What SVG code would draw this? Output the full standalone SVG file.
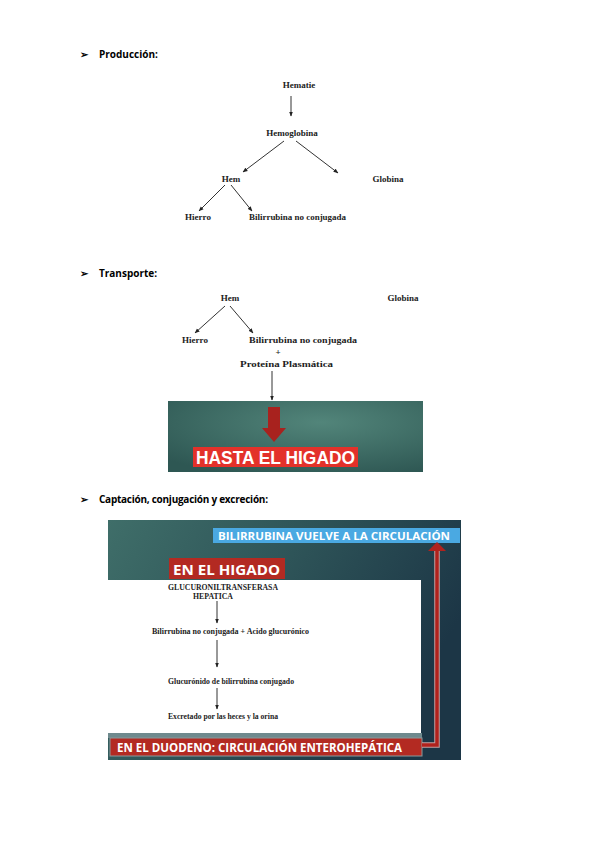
<svg xmlns="http://www.w3.org/2000/svg" width="603" height="848" viewBox="0 0 603 848">
<style>
.h{font-family:"Open Sans","Liberation Sans",sans-serif;font-weight:bold;font-size:10px;fill:#000}
.t{font-family:"Liberation Serif","Times New Roman",serif;font-weight:bold;font-size:9px;fill:#222}
.s{font-family:"Liberation Serif","Times New Roman",serif;font-weight:bold;font-size:7.5px;fill:#222}
.w{font-family:"Open Sans","Liberation Sans",sans-serif;font-weight:bold;fill:#fff}
.a{font-family:"Liberation Sans",Arial,sans-serif;font-weight:bold;fill:#fff}
.ln{stroke:#333;stroke-width:1;fill:none}
</style>
<defs>
<marker id="ah" viewBox="0 0 10 10" refX="9" refY="5" markerWidth="5" markerHeight="5" orient="auto">
<path d="M0,1 L10,5 L0,9 z" fill="#222"/>
</marker>
<radialGradient id="g2" cx="0.6" cy="0.3" r="0.8">
<stop offset="0" stop-color="#52857a"/>
<stop offset="1" stop-color="#2e5753"/>
</radialGradient>
<linearGradient id="g3" x1="0" y1="0" x2="1" y2="0.4">
<stop offset="0" stop-color="#3f6e69"/>
<stop offset="0.5" stop-color="#2e5458"/>
<stop offset="1" stop-color="#1c3646"/>
</linearGradient>
</defs>

<g id="heading1">
<text class="h" x="80" y="58" font-size="11">➢</text>
<text class="h" x="99" y="58">Producción:</text>
</g>
<g id="heading2">
<text class="h" x="80" y="277" font-size="11">➢</text>
<text class="h" x="99" y="277" textLength="58">Transporte:</text>
</g>
<g id="heading3">
<text class="h" x="80" y="503" font-size="11">➢</text>
<text class="h" x="99" y="503" textLength="169">Captación, conjugación y excreción:</text>
</g>

<g id="d1-hematie"><text class="t" x="299" y="88" text-anchor="middle">Hematie</text></g>
<g id="d1-hemoglobina"><text class="t" x="292" y="136" text-anchor="middle">Hemoglobina</text></g>
<g id="d1-hem"><text class="t" x="231" y="182" text-anchor="middle">Hem</text></g>
<g id="d1-globina"><text class="t" x="388" y="182" text-anchor="middle">Globina</text></g>
<g id="d1-hierro"><text class="t" x="198" y="220" text-anchor="middle">Hierro</text></g>
<g id="d1-bilirrubina"><text class="t" x="249" y="220" textLength="97" lengthAdjust="spacingAndGlyphs">Bilirrubina no conjugada</text></g>

<g id="d2-hem"><text class="t" x="230" y="301" text-anchor="middle" font-size="10">Hem</text></g>
<g id="d2-globina"><text class="t" x="403" y="301" text-anchor="middle" font-size="10">Globina</text></g>
<g id="d2-hierro"><text class="t" x="195" y="343" text-anchor="middle" font-size="10">Hierro</text></g>
<g id="d2-bilirrubina">
<text class="t" x="249" y="343" font-size="10" textLength="108" lengthAdjust="spacingAndGlyphs">Bilirrubina no conjugada</text>
<text class="t" x="278" y="355" text-anchor="middle" font-size="10">+</text>
<text class="t" x="240" y="367" font-size="10" textLength="93" lengthAdjust="spacingAndGlyphs">Proteína Plasmática</text>
</g>

<g id="image-hasta">
<rect x="168" y="401" width="255" height="71" fill="url(#g2)"/>
<path d="M268,407 H280 V428 H286 L274,442 L262,428 H268 z" fill="#a8221e"/>
<rect x="193" y="447" width="165" height="20" fill="#e3312a"/>
<text class="a" x="196" y="464" font-size="18" textLength="159" lengthAdjust="spacingAndGlyphs">HASTA EL HIGADO</text>
</g>

<g id="image-higado">
<rect x="108" y="520" width="353" height="240" fill="url(#g3)"/>
<rect x="108" y="580" width="313" height="153" fill="#fff"/>
<rect x="108" y="733" width="314" height="5" fill="#6f8a8e"/>
<rect x="213" y="528" width="247" height="15" fill="#4aa9e2"/>
<text class="w" x="218" y="540" font-size="11" textLength="232" lengthAdjust="spacingAndGlyphs">BILIRRUBINA VUELVE A LA CIRCULACIÓN</text>
<rect x="169" y="558" width="116" height="21" fill="#b32a22"/>
<text class="w" x="173" y="575" font-size="15" textLength="107" lengthAdjust="spacingAndGlyphs">EN EL HIGADO</text>
<rect x="110" y="738" width="312" height="18" fill="#b32a22" stroke="#8a9a9c" stroke-width="1"/>
<text class="w" x="117" y="752" font-size="12" textLength="285" lengthAdjust="spacingAndGlyphs">EN EL DUODENO: CIRCULACIÓN ENTEROHEPÁTICA</text>
<path d="M422,745 H437 V550" fill="none" stroke="#c9a0a0" stroke-width="5.5"/>
<path d="M422,745 H437 V550" fill="none" stroke="#b0221d" stroke-width="3.5"/>
<path d="M428,551 L437,542 L446,551 z" fill="#b0221d"/>
<text class="s" x="168" y="590" textLength="110" lengthAdjust="spacingAndGlyphs">GLUCURONILTRANSFERASA</text>
<text class="s" x="193" y="599" textLength="40" lengthAdjust="spacingAndGlyphs">HEPATICA</text>
<text class="s" x="152" y="634" textLength="157" lengthAdjust="spacingAndGlyphs">Bilirrubina no conjugada  +  Acido glucurónico</text>
<text class="s" x="168" y="684" textLength="126" lengthAdjust="spacingAndGlyphs">Glucurónido de bilirrubina conjugado</text>
<text class="s" x="168" y="719" textLength="110" lengthAdjust="spacingAndGlyphs">Excretado por las heces y la orina</text>
</g>

<g id="connectors">
<line class="ln" x1="291" y1="96" x2="291" y2="116" marker-end="url(#ah)"/>
<line class="ln" x1="284" y1="141" x2="243" y2="172" marker-end="url(#ah)"/>
<line class="ln" x1="296" y1="141" x2="338" y2="173" marker-end="url(#ah)"/>
<line class="ln" x1="225" y1="185" x2="199" y2="211" marker-end="url(#ah)"/>
<line class="ln" x1="231" y1="185" x2="252" y2="211" marker-end="url(#ah)"/>
<line class="ln" x1="225" y1="306" x2="195" y2="333" marker-end="url(#ah)"/>
<line class="ln" x1="230" y1="306" x2="253" y2="333" marker-end="url(#ah)"/>
<line class="ln" x1="272" y1="371" x2="272" y2="400" marker-end="url(#ah)"/>
<line class="ln" x1="217" y1="601" x2="217" y2="623" marker-end="url(#ah)"/>
<line class="ln" x1="217" y1="640" x2="217" y2="667" marker-end="url(#ah)"/>
<line class="ln" x1="217" y1="688" x2="217" y2="709" marker-end="url(#ah)"/>
</g>
</svg>
